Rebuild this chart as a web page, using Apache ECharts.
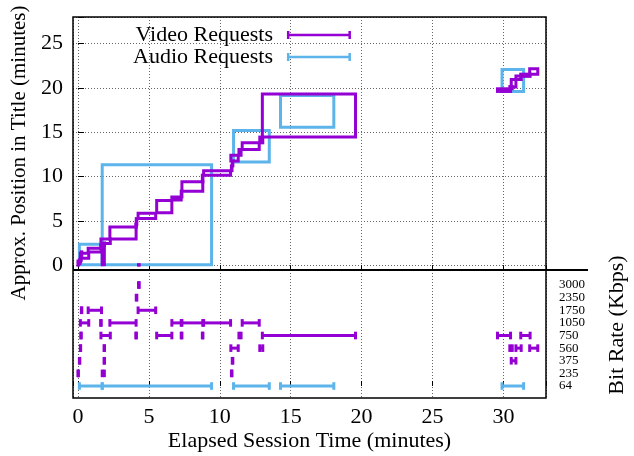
<!DOCTYPE html>
<html>
<head>
<meta charset="utf-8">
<script src="https://cdn.jsdelivr.net/npm/echarts@6/dist/echarts.min.js"></script>
<style>html,body{margin:0;padding:0;background:#fff}#c{width:634px;height:456px}</style>
</head>
<body>
<div id="c"></div>
<script>
// ---- data (minutes / kbps) ----
const rateTicks = ['64','235','375','560','750','1050','1750','2350','3000'];
const xTicks = [0, 5, 10, 15, 20, 25, 30];
const yTicks = [0, 5, 10, 15, 20, 25];

const videoStart   = [0.00,0.10,0.17,0.20,0.17,0.24,0.72,1.60,1.62,1.71,1.84,1.84,2.25,4.08,4.11,4.27,4.24,5.55,6.62,7.28,7.33,8.77,8.86,10.82,10.88,10.78,11.35,11.58,12.82,13.00,29.58,30.45,30.55,30.88,31.22,31.85];
const videoEnd     = [0.03,0.13,0.19,0.23,0.76,0.27,1.66,1.64,2.28,1.86,1.87,1.87,4.10,4.12,4.15,4.32,5.48,6.62,7.28,7.33,8.80,8.81,10.76,10.86,10.92,11.30,11.50,12.78,13.03,19.57,30.50,30.62,30.88,31.25,31.88,32.42];
const videoPosFrom = [0.00,0.15,0.35,0.55,0.78,1.10,1.48,1.85,2.43,0.05,2.20,2.35,2.95,4.30,4.60,0.00,5.25,5.90,7.35,7.70,8.35,9.40,10.15,10.66,11.20,11.75,12.40,13.05,13.80,14.45,19.60,19.90,20.10,20.95,21.30,21.55];
const videoPosTo   = [0.45,0.60,0.80,0.90,1.35,1.50,1.90,2.25,2.95,2.35,2.45,2.50,4.30,4.60,5.25,0.05,5.85,7.30,7.70,8.35,9.40,10.15,10.66,11.20,11.75,12.40,13.05,13.80,14.45,19.30,19.90,20.15,20.95,21.35,21.55,22.15];
const videoRate    = [235,375,560,750,1050,1750,1750,1050,750,235,560,375,1050,750,2350,3000,1750,750,1050,750,1050,750,1050,235,375,560,750,1050,560,750,750,560,375,560,750,560];

const audioStart   = [0.10, 1.71, 10.97, 14.28, 29.90];
const audioEnd     = [1.71, 9.42, 13.49, 18.04, 31.42];
const audioPosFrom = [0.05, 0.05, 11.63, 15.55, 19.60];
const audioPosTo   = [2.35, 11.33, 15.20, 19.14, 22.08];
const audioRate    = [64, 64, 64, 64, 64];

// ---- styling / layout ----
const VIDEO = '#9400D3';
const AUDIO = '#5DB4EA';
const FONT = '"Liberation Serif", "Times New Roman", serif';
const L = 73, R = 546, T = 17, MID = 270, B = 398;

const videoBoxes = videoStart.map((s, i) => [s, videoEnd[i], videoPosFrom[i], videoPosTo[i]]);
const audioBoxes = audioStart.map((s, i) => [s, audioEnd[i], audioPosFrom[i], audioPosTo[i]]);
const videoBars = videoStart.map((s, i) => [s, videoEnd[i], rateTicks.indexOf(String(videoRate[i]))]);
const audioBars = audioStart.map((s, i) => [s, audioEnd[i], rateTicks.indexOf(String(audioRate[i]))]);

function boxRender(color) {
  return function (params, api) {
    const p0 = api.coord([api.value(0), api.value(2)]);
    const p1 = api.coord([api.value(1), api.value(3)]);
    return {
      type: 'rect',
      shape: { x: Math.min(p0[0], p1[0]), y: Math.min(p0[1], p1[1]),
               width: Math.abs(p1[0] - p0[0]), height: Math.abs(p1[1] - p0[1]) },
      style: { fill: 'none', stroke: color, lineWidth: 3 }
    };
  };
}
function barRender(color) {
  return function (params, api) {
    const a = api.coord([api.value(0), api.value(2)]);
    const b = api.coord([api.value(1), api.value(2)]);
    const h = 3.8, st = { stroke: color, lineWidth: 3 };
    return { type: 'group', children: [
      { type: 'line', shape: { x1: a[0], y1: a[1], x2: b[0], y2: b[1] }, style: st },
      { type: 'line', shape: { x1: a[0], y1: a[1] - h, x2: a[0], y2: a[1] + h }, style: st },
      { type: 'line', shape: { x1: b[0], y1: b[1] - h, x2: b[0], y2: b[1] + h }, style: st }
    ]};
  };
}

const gridLine = { show: true, lineStyle: { color: '#666', width: 1, type: [1, 2] } };
const xFmt = v => (xTicks.indexOf(v) >= 0 ? String(v) : '');

const chart = echarts.init(document.getElementById('c'), null, { renderer: 'canvas' });
chart.setOption({
  animation: false,
  backgroundColor: '#fff',
  textStyle: { fontFamily: FONT },
  grid: [
    { left: L, top: T, width: R - L, height: MID - T, outerBoundsMode: 'none' },
    { left: L, top: MID, width: R - L, height: B - MID, outerBoundsMode: 'none' }
  ],
  legend: {
    data: ['Video Requests', 'Audio Requests'],
    orient: 'vertical', left: 128, top: 19, align: 'right',
    itemGap: 0, itemTextGap: 14, itemWidth: 64, itemHeight: 8,
    icon: 'path://M0,2.7H64V5.3H0Z M0,0H2.5V8H0Z M61.5,0H64V8H61.5Z',
    textStyle: { fontFamily: FONT, fontSize: 22, color: '#000', padding: [0, 9, 0, 0] },
    selectedMode: false
  },
  xAxis: [
    { type: 'value', gridIndex: 0, position: 'top', min: -0.35, max: 33,
      axisLine: { show: false }, axisLabel: { show: false },
      axisTick: { show: true, inside: true, length: 5, lineStyle: { color: '#000' } },
      splitLine: gridLine },
    { type: 'value', gridIndex: 1, position: 'bottom', min: -0.35, max: 33,
      axisLine: { show: false },
      axisLabel: { show: true, margin: 8, fontFamily: FONT, fontSize: 22, color: '#000', formatter: xFmt },
      axisTick: { show: true, inside: true, length: 5, lineStyle: { color: '#000' } },
      splitLine: gridLine,
      name: 'Elapsed Session Time (minutes)', nameLocation: 'middle', nameGap: 32,
      nameTextStyle: { fontFamily: FONT, fontSize: 22, color: '#000' } }
  ],
  yAxis: [
    { type: 'value', gridIndex: 0, position: 'left', min: -0.55, max: 28,
      axisLine: { show: false },
      axisLabel: { show: true, margin: 10, fontFamily: FONT, fontSize: 22, color: '#000',
                   formatter: v => (yTicks.indexOf(v) >= 0 ? String(v) : '') },
      axisTick: { show: true, inside: true, length: 6, lineStyle: { color: '#000' } },
      splitLine: gridLine },
    { type: 'value', gridIndex: 1, position: 'right', min: -0.95, max: 9.19, splitNumber: 10,
      axisLine: { show: false }, axisTick: { show: false }, splitLine: { show: false },
      axisLabel: { show: true, margin: 13, fontFamily: FONT, fontSize: 13, color: '#000',
                   formatter: v => (Number.isInteger(v) && rateTicks[v] ? rateTicks[v] : '') } }
  ],
  series: [
    { name: 'Audio Requests', type: 'custom', xAxisIndex: 0, yAxisIndex: 0,
      itemStyle: { color: AUDIO }, renderItem: boxRender(AUDIO), data: audioBoxes,
      encode: { x: [0, 1], y: [2, 3] } },
    { name: 'Video Requests', type: 'custom', xAxisIndex: 0, yAxisIndex: 0,
      itemStyle: { color: VIDEO }, renderItem: boxRender(VIDEO), data: videoBoxes,
      encode: { x: [0, 1], y: [2, 3] } },
    { name: 'Audio Requests', type: 'custom', xAxisIndex: 1, yAxisIndex: 1,
      itemStyle: { color: AUDIO }, renderItem: barRender(AUDIO), data: audioBars,
      encode: { x: [0, 1], y: 2 } },
    { name: 'Video Requests', type: 'custom', xAxisIndex: 1, yAxisIndex: 1,
      itemStyle: { color: VIDEO }, renderItem: barRender(VIDEO), data: videoBars,
      encode: { x: [0, 1], y: 2 } }
  ],
  graphic: [
    { type: 'rect', z: 100, silent: true,
      shape: { x: L, y: T, width: R - L, height: B - T },
      style: { fill: 'none', stroke: '#000', lineWidth: 1.5 } },
    { type: 'line', z: 100, silent: true,
      shape: { x1: L, y1: MID, x2: 588, y2: MID },
      style: { stroke: '#000', lineWidth: 2 } },
    { type: 'text', x: 19, y: 153, rotation: Math.PI / 2, silent: true,
      style: { text: 'Approx. Position in Title (minutes)', fontFamily: FONT, fontSize: 21,
               fill: '#000', align: 'center', verticalAlign: 'middle' } },
    { type: 'text', x: 617, y: 325, rotation: Math.PI / 2, silent: true,
      style: { text: 'Bit Rate (Kbps)', fontFamily: FONT, fontSize: 22,
               fill: '#000', align: 'center', verticalAlign: 'middle' } }
  ]
});
</script>
</body>
</html>
